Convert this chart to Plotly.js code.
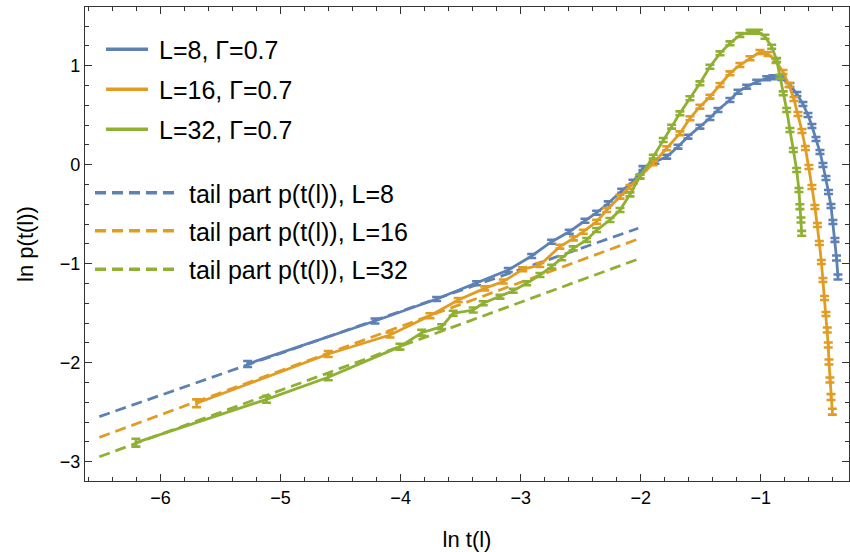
<!DOCTYPE html>
<html>
<head>
<meta charset="utf-8">
<script src="https://cdn.plot.ly/plotly-3.0.1.min.js"></script>
<style>html,body{margin:0;padding:0;background:#fff;}#chart{width:850px;height:552px;}</style>
</head>
<body>
<div id="chart"></div>
<script>
// ---- data ----
const lnT8 = [-5.275,-4.214,-3.700,-3.367,-3.103,-2.908,-2.742,-2.595,-2.464,-2.367,-2.270,-2.158,-2.064,-1.981,-1.881,-1.783,-1.689,-1.606,-1.506,-1.423,-1.356,-1.256,-1.189,-1.117,-1.033,-0.950,-0.898,-0.823,-0.756,-0.698,-0.648,-0.606,-0.573,-0.539,-0.506,-0.481,-0.456,-0.435,-0.414,-0.398,-0.381,-0.368,-0.356];
const lnP8 = [-2.013,-1.579,-1.357,-1.198,-1.064,-0.922,-0.778,-0.677,-0.566,-0.485,-0.390,-0.263,-0.172,-0.034,0.030,0.081,0.182,0.283,0.384,0.472,0.553,0.654,0.737,0.788,0.838,0.873,0.883,0.876,0.805,0.714,0.613,0.502,0.391,0.260,0.128,-0.003,-0.134,-0.276,-0.417,-0.579,-0.760,-0.942,-1.134];
const err8 = [0.03,0.025,0.02,0.02,0.02,0.02,0.02,0.02,0.02,0.02,0.02,0.02,0.02,0.02,0.02,0.02,0.02,0.02,0.02,0.02,0.02,0.02,0.02,0.02,0.02,0.02,0.02,0.02,0.02,0.02,0.02,0.02,0.02,0.02,0.02,0.02,0.02,0.02,0.02,0.02,0.02,0.025,0.025];

const lnT16 = [-5.700,-4.603,-4.089,-3.756,-3.520,-3.300,-3.145,-2.983,-2.840,-2.673,-2.560,-2.478,-2.367,-2.283,-2.172,-2.089,-2.006,-1.895,-1.783,-1.673,-1.589,-1.506,-1.423,-1.339,-1.256,-1.173,-1.089,-1.006,-0.939,-0.873,-0.814,-0.764,-0.723,-0.689,-0.656,-0.627,-0.598,-0.573,-0.548,-0.527,-0.511,-0.494,-0.481,-0.468,-0.456,-0.445,-0.437,-0.431,-0.423,-0.414,-0.403];
const lnP16 = [-2.410,-1.912,-1.720,-1.525,-1.367,-1.249,-1.180,-1.057,-1.013,-0.828,-0.744,-0.677,-0.576,-0.458,-0.323,-0.225,-0.121,0.014,0.166,0.317,0.469,0.586,0.687,0.805,0.923,1.007,1.075,1.138,1.118,1.047,0.936,0.805,0.664,0.512,0.340,0.168,-0.023,-0.225,-0.427,-0.609,-0.791,-0.983,-1.165,-1.347,-1.508,-1.670,-1.821,-1.993,-2.175,-2.347,-2.495];
const err16 = [0.04,0.03,0.025,0.025,0.02,0.02,0.02,0.02,0.02,0.02,0.02,0.02,0.02,0.02,0.02,0.02,0.02,0.02,0.02,0.02,0.02,0.02,0.02,0.02,0.02,0.02,0.02,0.02,0.02,0.02,0.02,0.02,0.02,0.02,0.02,0.02,0.02,0.02,0.02,0.02,0.02,0.02,0.02,0.02,0.02,0.025,0.025,0.025,0.025,0.03,0.03];

const lnT32 = [-6.206,-5.117,-4.603,-4.006,-3.825,-3.658,-3.562,-3.395,-3.312,-3.172,-3.062,-2.950,-2.839,-2.742,-2.658,-2.562,-2.450,-2.367,-2.256,-2.172,-2.089,-2.006,-1.895,-1.812,-1.742,-1.673,-1.589,-1.506,-1.423,-1.339,-1.256,-1.173,-1.089,-1.020,-0.964,-0.908,-0.867,-0.839,-0.812,-0.783,-0.756,-0.728,-0.700,-0.681,-0.673,-0.664,-0.658];
const lnP32 = [-2.808,-2.370,-2.147,-1.838,-1.697,-1.636,-1.501,-1.468,-1.400,-1.333,-1.273,-1.198,-1.114,-1.030,-0.945,-0.845,-0.760,-0.660,-0.559,-0.458,-0.300,-0.120,0.081,0.249,0.384,0.519,0.671,0.822,0.990,1.125,1.226,1.310,1.343,1.343,1.293,1.192,1.058,0.889,0.721,0.553,0.351,0.149,-0.054,-0.256,-0.424,-0.559,-0.693];
const err32 = [0.04,0.035,0.03,0.03,0.03,0.025,0.025,0.025,0.02,0.02,0.02,0.02,0.02,0.02,0.02,0.02,0.02,0.02,0.02,0.02,0.02,0.02,0.02,0.02,0.02,0.02,0.02,0.02,0.02,0.02,0.02,0.02,0.02,0.02,0.02,0.02,0.02,0.02,0.02,0.02,0.02,0.02,0.02,0.02,0.025,0.025,0.025];

// tail fits (straight lines in ln-ln)
const tailX = [-6.51, -2.02];
const tail8 = [-2.545, -0.642];
const tail16 = [-2.754, -0.751];
const tail32 = [-2.950, -0.953];

const seriesNames = ['L=8, \u0393=0.7', 'L=16, \u0393=0.7', 'L=32, \u0393=0.7'];
const tailNames = ['tail part p(t(l)), L=8', 'tail part p(t(l)), L=16', 'tail part p(t(l)), L=32'];
const xTitle = 'ln t(l)';
const yTitle = 'ln p(t(l))';

// ---- styles ----
const colors = ['#5E81B5', '#E19C24', '#8FB032'];
const FONT = 'Liberation Sans, Arial, Helvetica, sans-serif';

function solid(x, y, e, c, name) {
  return {x: x, y: y, type: 'scatter', mode: 'lines', name: name, showlegend: false,
    line: {color: c, width: 2.8},
    error_y: {type: 'data', array: e, visible: true, color: c, thickness: 2.6, width: 4.5}};
}
function dashed(x, y, c, name) {
  return {x: x, y: y, type: 'scatter', mode: 'lines', name: name, showlegend: false,
    line: {color: c, width: 2.8, dash: '11px,6px'}};
}

const traces = [
  dashed(tailX, tail8, colors[0], tailNames[0]),
  dashed(tailX, tail16, colors[1], tailNames[1]),
  dashed(tailX, tail32, colors[2], tailNames[2]),
  solid(lnT8, lnP8, err8, colors[0], seriesNames[0]),
  solid(lnT16, lnP16, err16, colors[1], seriesNames[1]),
  solid(lnT32, lnP32, err32, colors[2], seriesNames[2])
];

// ---- hand-built legend (two groups with different sample lengths) ----
const M = {l: 85, r: 1, t: 7, b: 71};
const W = 850, H = 552;
const PW = W - M.l - M.r, PH = H - M.t - M.b;
const PX = p => (p - M.l) / PW;
const PY = p => (H - M.b - p) / PH;

const shapes = [];
const annotations = [];
const solidRows = [49.3, 89.3, 129.3];
const dashRows = [192.7, 230.7, 269.3];
for (let i = 0; i < 3; i++) {
  shapes.push({type: 'line', xref: 'paper', yref: 'paper', x0: PX(106), x1: PX(148), y0: PY(solidRows[i]), y1: PY(solidRows[i]),
    line: {color: colors[i], width: 3.5}});
  annotations.push({xref: 'paper', yref: 'paper', x: PX(157), y: PY(solidRows[i] + 1), xanchor: 'left', yanchor: 'middle',
    text: seriesNames[i], showarrow: false, font: {family: FONT, size: 25, color: '#000'}});
  shapes.push({type: 'line', xref: 'paper', yref: 'paper', x0: PX(95), x1: PX(175), y0: PY(dashRows[i]), y1: PY(dashRows[i]),
    line: {color: colors[i], width: 3.5, dash: '11px,6px'}});
  annotations.push({xref: 'paper', yref: 'paper', x: PX(187), y: PY(dashRows[i] + 1), xanchor: 'left', yanchor: 'middle',
    text: tailNames[i], showarrow: false, font: {family: FONT, size: 25, color: '#000'}});
}

const axisCommon = {
  showgrid: false, zeroline: false, showline: true, linecolor: '#333', linewidth: 1.2,
  mirror: 'ticks', ticks: 'inside', ticklen: 7, tickwidth: 1.1, tickcolor: '#333',
  tickfont: {family: FONT, size: 18, color: '#000'},
  minor: {dtick: 0.2, ticks: 'inside', ticklen: 4, tickwidth: 1, tickcolor: '#333'}
};

const layout = {
  width: W, height: H, margin: M,
  paper_bgcolor: '#fff', plot_bgcolor: '#fff',
  showlegend: false,
  xaxis: Object.assign({}, axisCommon, {range: [-6.63, -0.264], dtick: 1, tick0: 0,
    title: {text: xTitle, font: {family: FONT, size: 22, color: '#000'}, standoff: 24}}),
  yaxis: Object.assign({}, axisCommon, {range: [-3.195, 1.593], dtick: 1, tick0: 0,
    title: {text: yTitle, font: {family: FONT, size: 22, color: '#000'}, standoff: 20}}),
  shapes: shapes,
  annotations: annotations
};

Plotly.newPlot('chart', traces, layout, {staticPlot: true, displayModeBar: false});
</script>
</body>
</html>
